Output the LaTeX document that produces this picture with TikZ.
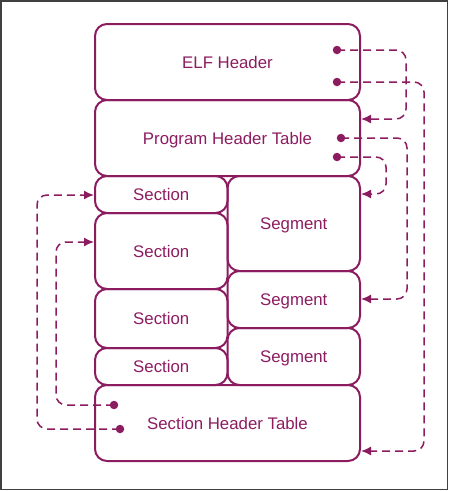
\documentclass[tikz,border=0pt]{standalone}
\usepackage{fontspec}
\setmainfont{Liberation Sans}
\usetikzlibrary{arrows.meta}
\definecolor{plum}{RGB}{140,28,96}
\definecolor{frame}{RGB}{64,64,64}
\tikzset{
  box/.style={draw=plum, line width=2pt, rounded corners=12pt, inner sep=0pt,
    text=plum, font=\fontsize{16.8}{19}\selectfont, text height=12pt, text depth=0pt},
  dot/.style={circle, fill=plum, inner sep=0pt, minimum size=8.5pt},
  link/.style={draw=plum, line width=1.5pt, dash pattern=on 8pt off 5pt,
    rounded corners=10pt, -{Latex[length=10pt,width=9pt]}},
}
\begin{document}
\begin{tikzpicture}[x=1pt,y=-1pt]
\useasboundingbox (0,0) rectangle (450,491);
\draw[frame, line width=1.5pt] (0.75,0.75) rectangle (447.5,489.5);
% boxes
\node[box, minimum width=265pt, minimum height=76pt] (elf) at (227.5,62) {ELF Header};
\node[box, minimum width=265pt, minimum height=76pt] (pht) at (227.5,138) {Program Header Table};
\node[box, minimum width=132.5pt, minimum height=37pt] (sec1) at (161.25,194.5) {Section};
\node[box, minimum width=132.5pt, minimum height=76pt] (sec2) at (161.25,251) {Section};
\node[box, minimum width=132.5pt, minimum height=59pt] (sec3) at (161.25,318.5) {Section};
\node[box, minimum width=132.5pt, minimum height=37pt] (sec4) at (161.25,366.5) {Section};
\node[box, minimum width=132.5pt, minimum height=95pt] (seg1) at (293.75,223.5) {Segment};
\node[box, minimum width=132.5pt, minimum height=57pt] (seg2) at (293.75,299.5) {Segment};
\node[box, minimum width=132.5pt, minimum height=57pt] (seg3) at (293.75,356.5) {Segment};
\node[box, minimum width=265pt, minimum height=76pt] (sht) at (227.5,423) {Section Header Table};
% dots
\node[dot] (d1) at (337,50) {};
\node[dot] (d2) at (337,82) {};
\node[dot] (d3) at (341,138) {};
\node[dot] (d4) at (337,157) {};
\node[dot] (d5) at (120,429) {};
\node[dot] (d6) at (114,405) {};
% targets
\coordinate (t1) at (361,119);
\coordinate (t2) at (361,451);
\coordinate (t3) at (361,299);
\coordinate (t4) at (361,194);
\coordinate (t5) at (94,195);
\coordinate (t6) at (94,242);
% connectors
\draw[link] (d1.center) -- (406,50) -- (406,119) -- (t1);
\draw[link] (d2.center) -- (424,82) -- (424,451) -- (t2);
\draw[link] (d3.center) -- (407,138) -- (407,299) -- (t3);
\draw[link] (d4.center) -- (386,157) -- (386,194) -- (t4);
\draw[link] (d5.center) -- (37,429) -- (37,195) -- (t5);
\draw[link] (d6.center) -- (56,405) -- (56,242) -- (t6);
\end{tikzpicture}
\end{document}
